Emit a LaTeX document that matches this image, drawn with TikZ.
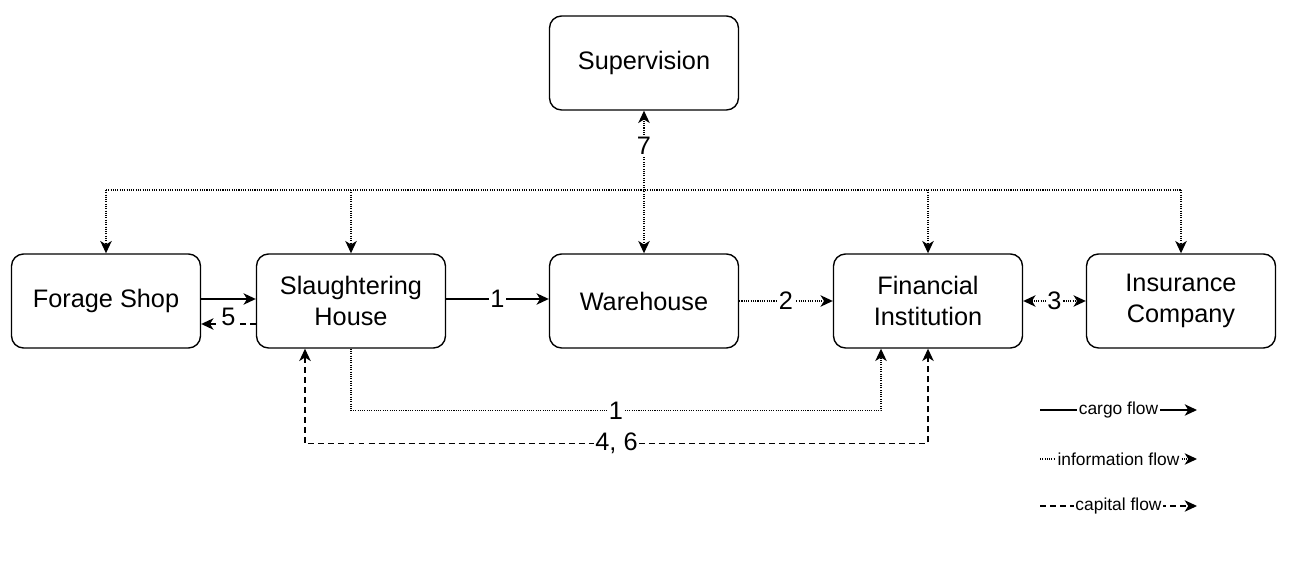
\documentclass[tikz,border=0pt]{standalone}
\usepackage{fontspec}
\setmainfont{Liberation Sans}
\usetikzlibrary{arrows.meta}
\usetikzlibrary{calc}
\begin{document}
\begin{tikzpicture}[x=0.02cm, y=-0.02cm, box/.style={draw, rounded corners=0.24cm, line width=0.8pt, minimum width=3.78cm, minimum height=1.88cm, align=center, font=\fontsize{14.4}{18}\selectfont}, cargo/.style={line width=0.8pt}, info/.style={line width=0.8pt, dash pattern=on 0.6pt off 0.7pt}, capital/.style={line width=0.8pt, dash pattern=on 3.4pt off 2.3pt}, lbl/.style={fill=white, inner sep=1pt, font=\fontsize{14.4}{18}\selectfont}, key/.style={fill=white, inner sep=1pt, font=\fontsize{9.9}{12}\selectfont}, >={Stealth[length=7pt,width=6.5pt,inset=2pt]}]

\useasboundingbox (0,0) rectangle (1289,567);

\node[box] (sup) at (644,63) {Supervision};
\node[box] (fs) at (106,301) {Forage Shop};
\node[box] (sh) at (351,301) {Slaughtering\\House};
\node[box] (wh) at (644,301) {Warehouse};
\node[box] (fi) at (928,301) {Financial\\Institution};
\node[box] (ic) at (1181,301) {Insurance\\Company};

% supervision bus
\draw[info] (fs.north |- 0,190) -- (ic.north |- 0,190);
\foreach \n in {fs,sh,fi,ic}
{\draw[info,->] (\n.north |- 0,190) -- (\n.north);}
\draw[info,<->] (wh.north) -- node[lbl, pos=.757]{7} (sup.south);

% flows between the boxes
\draw[cargo,->] (fs.east |- 0,299) -- (sh.west |- 0,299);
\draw[capital,->] (sh.west |- 0,324) -- node[lbl, midway, yshift=0.14cm]{5} (fs.east |- 0,324);
\draw[cargo,->] (sh.east |- 0,299) -- node[lbl, midway]{1} (wh.west |- 0,299);
\draw[info,->] (wh) -- node[lbl, midway]{2} (fi);
\draw[info,<->] (fi) -- node[lbl, midway]{3} (ic);

% lower routes
\draw[info,->] (sh.south) |- node[lbl, pos=.75]{1} ($(fi.south)+(-47,62)$) -- ($(fi.south)+(-47,0)$);
\draw[capital,<->] ($(sh.south)+(-46,0)$) -- ++(0,95) -| node[lbl, pos=.25]{4, 6} (fi.south);

% legend
\coordinate (k1a) at (1040,410);
\coordinate (k1b) at (1197,410);
\coordinate (k2a) at (1040,459);
\coordinate (k2b) at (1197,459);
\coordinate (k3a) at (1040,506);
\coordinate (k3b) at (1197,506);
\draw[cargo,->] (k1a) -- node[key, midway]{cargo flow} (k1b);
\draw[info,->] (k2a) -- node[key, midway]{information flow} (k2b);
\draw[capital,->] (k3a) -- node[key, midway]{capital flow} (k3b);
\end{tikzpicture}
\end{document}
